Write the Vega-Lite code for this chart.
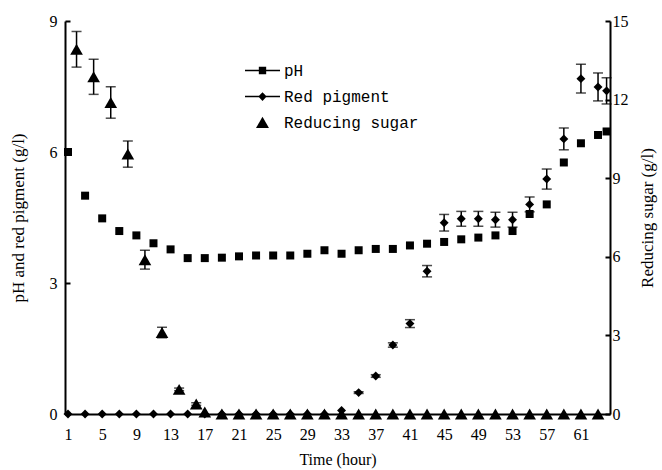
{
  "$schema": "https://vega.github.io/schema/vega-lite/v6.json",
  "width": 545,
  "height": 393,
  "autosize": {"type": "none"},
  "padding": {"left": 65, "top": 21, "right": 52, "bottom": 56},
  "background": "white",
  "config": {
    "view": {"stroke": null},
    "axis": {
      "domainColor": "black", "domainWidth": 2, "tickColor": "black", "tickWidth": 2,
      "labelColor": "black", "titleColor": "black", "grid": false,
      "labelFont": "Liberation Serif", "labelFontSize": 16,
      "titleFont": "Liberation Serif", "titleFontWeight": "normal"
    },
    "axisX": {"labelOverlap": false, "labelFlush": false}
  },
  "data": {
    "values": [
      {"series": "pH", "hour": 1, "v": 6.0},
      {"series": "pH", "hour": 3, "v": 5.0},
      {"series": "pH", "hour": 5, "v": 4.48},
      {"series": "pH", "hour": 7, "v": 4.19},
      {"series": "pH", "hour": 9, "v": 4.09},
      {"series": "pH", "hour": 11, "v": 3.91},
      {"series": "pH", "hour": 13, "v": 3.77},
      {"series": "pH", "hour": 15, "v": 3.57},
      {"series": "pH", "hour": 17, "v": 3.57},
      {"series": "pH", "hour": 19, "v": 3.58},
      {"series": "pH", "hour": 21, "v": 3.61},
      {"series": "pH", "hour": 23, "v": 3.63},
      {"series": "pH", "hour": 25, "v": 3.63},
      {"series": "pH", "hour": 27, "v": 3.63},
      {"series": "pH", "hour": 29, "v": 3.67},
      {"series": "pH", "hour": 31, "v": 3.75},
      {"series": "pH", "hour": 33, "v": 3.67},
      {"series": "pH", "hour": 35, "v": 3.75},
      {"series": "pH", "hour": 37, "v": 3.78},
      {"series": "pH", "hour": 39, "v": 3.78},
      {"series": "pH", "hour": 41, "v": 3.86},
      {"series": "pH", "hour": 43, "v": 3.9},
      {"series": "pH", "hour": 45, "v": 3.94},
      {"series": "pH", "hour": 47, "v": 4.0},
      {"series": "pH", "hour": 49, "v": 4.04},
      {"series": "pH", "hour": 51, "v": 4.09},
      {"series": "pH", "hour": 53, "v": 4.19},
      {"series": "pH", "hour": 55, "v": 4.58},
      {"series": "pH", "hour": 57, "v": 4.8},
      {"series": "pH", "hour": 59, "v": 5.76},
      {"series": "pH", "hour": 61, "v": 6.2},
      {"series": "pH", "hour": 63, "v": 6.39},
      {"series": "pH", "hour": 64, "v": 6.47},
      {"series": "Red pigment", "hour": 1, "v": 0, "err": 0},
      {"series": "Red pigment", "hour": 3, "v": 0, "err": 0},
      {"series": "Red pigment", "hour": 5, "v": 0, "err": 0},
      {"series": "Red pigment", "hour": 7, "v": 0, "err": 0},
      {"series": "Red pigment", "hour": 9, "v": 0, "err": 0},
      {"series": "Red pigment", "hour": 11, "v": 0, "err": 0},
      {"series": "Red pigment", "hour": 13, "v": 0, "err": 0},
      {"series": "Red pigment", "hour": 15, "v": 0, "err": 0},
      {"series": "Red pigment", "hour": 17, "v": 0, "err": 0},
      {"series": "Red pigment", "hour": 19, "v": 0, "err": 0},
      {"series": "Red pigment", "hour": 21, "v": 0, "err": 0},
      {"series": "Red pigment", "hour": 23, "v": 0, "err": 0},
      {"series": "Red pigment", "hour": 25, "v": 0, "err": 0},
      {"series": "Red pigment", "hour": 27, "v": 0, "err": 0},
      {"series": "Red pigment", "hour": 29, "v": 0, "err": 0},
      {"series": "Red pigment", "hour": 31, "v": 0, "err": 0},
      {"series": "Red pigment", "hour": 33, "v": 0.08, "err": 0},
      {"series": "Red pigment", "hour": 35, "v": 0.49, "err": 0.02},
      {"series": "Red pigment", "hour": 37, "v": 0.87, "err": 0.03},
      {"series": "Red pigment", "hour": 39, "v": 1.58, "err": 0.05},
      {"series": "Red pigment", "hour": 41, "v": 2.07, "err": 0.09},
      {"series": "Red pigment", "hour": 43, "v": 3.27, "err": 0.13},
      {"series": "Red pigment", "hour": 45, "v": 4.38, "err": 0.19},
      {"series": "Red pigment", "hour": 47, "v": 4.47, "err": 0.17},
      {"series": "Red pigment", "hour": 49, "v": 4.47, "err": 0.17},
      {"series": "Red pigment", "hour": 51, "v": 4.45, "err": 0.17},
      {"series": "Red pigment", "hour": 53, "v": 4.45, "err": 0.17},
      {"series": "Red pigment", "hour": 55, "v": 4.8, "err": 0.17},
      {"series": "Red pigment", "hour": 57, "v": 5.38, "err": 0.23},
      {"series": "Red pigment", "hour": 59, "v": 6.3, "err": 0.25},
      {"series": "Red pigment", "hour": 61, "v": 7.68, "err": 0.33},
      {"series": "Red pigment", "hour": 63, "v": 7.49, "err": 0.32},
      {"series": "Red pigment", "hour": 64, "v": 7.4, "err": 0.3},
      {"series": "Reducing sugar", "hour": 2, "v": 13.92, "err": 0.68},
      {"series": "Reducing sugar", "hour": 4, "v": 12.87, "err": 0.67},
      {"series": "Reducing sugar", "hour": 6, "v": 11.89, "err": 0.6},
      {"series": "Reducing sugar", "hour": 8, "v": 9.92, "err": 0.5},
      {"series": "Reducing sugar", "hour": 10, "v": 5.89, "err": 0.36},
      {"series": "Reducing sugar", "hour": 12, "v": 3.11, "err": 0.2},
      {"series": "Reducing sugar", "hour": 14, "v": 0.94, "err": 0.05},
      {"series": "Reducing sugar", "hour": 16, "v": 0.38, "err": 0.05},
      {"series": "Reducing sugar", "hour": 17, "v": 0.08, "err": 0},
      {"series": "Reducing sugar", "hour": 19, "v": 0, "err": 0},
      {"series": "Reducing sugar", "hour": 21, "v": 0, "err": 0},
      {"series": "Reducing sugar", "hour": 23, "v": 0, "err": 0},
      {"series": "Reducing sugar", "hour": 25, "v": 0, "err": 0},
      {"series": "Reducing sugar", "hour": 27, "v": 0, "err": 0},
      {"series": "Reducing sugar", "hour": 29, "v": 0, "err": 0},
      {"series": "Reducing sugar", "hour": 31, "v": 0, "err": 0},
      {"series": "Reducing sugar", "hour": 33, "v": 0, "err": 0},
      {"series": "Reducing sugar", "hour": 35, "v": 0, "err": 0},
      {"series": "Reducing sugar", "hour": 37, "v": 0, "err": 0},
      {"series": "Reducing sugar", "hour": 39, "v": 0, "err": 0},
      {"series": "Reducing sugar", "hour": 41, "v": 0, "err": 0},
      {"series": "Reducing sugar", "hour": 43, "v": 0, "err": 0},
      {"series": "Reducing sugar", "hour": 45, "v": 0, "err": 0},
      {"series": "Reducing sugar", "hour": 47, "v": 0, "err": 0},
      {"series": "Reducing sugar", "hour": 49, "v": 0, "err": 0},
      {"series": "Reducing sugar", "hour": 51, "v": 0, "err": 0},
      {"series": "Reducing sugar", "hour": 53, "v": 0, "err": 0},
      {"series": "Reducing sugar", "hour": 55, "v": 0, "err": 0},
      {"series": "Reducing sugar", "hour": 57, "v": 0, "err": 0},
      {"series": "Reducing sugar", "hour": 59, "v": 0, "err": 0},
      {"series": "Reducing sugar", "hour": 61, "v": 0, "err": 0},
      {"series": "Reducing sugar", "hour": 63, "v": 0, "err": 0}
    ]
  },
  "encoding": {
    "x": {
      "field": "hour", "type": "quantitative",
      "scale": {"domain": [0.65, 64.4], "nice": false, "zero": false},
      "axis": {
        "values": [1, 5, 9, 13, 17, 21, 25, 29, 33, 37, 41, 45, 49, 53, 57, 61],
        "ticks": false, "labelPadding": 12, "labelOverlap": false, "labelFlush": false,
        "title": "Time (hour)", "titleFontSize": 16, "titlePadding": 9
      }
    }
  },
  "layer": [
    {
      "encoding": {
        "y": {
          "field": "v", "type": "quantitative",
          "scale": {"domain": [0, 9], "nice": false},
          "axis": {
            "orient": "left", "values": [0, 3, 6, 9], "tickSize": -5,
            "labelPadding": 13, "labelOverlap": false, "title": "pH and red pigment (g/l)",
            "titleFontSize": 17, "titlePadding": 22
          }
        }
      },
      "layer": [
        {
          "transform": [{"filter": "datum.series === 'pH'"}],
          "mark": {"type": "point", "shape": "square", "filled": true, "size": 64, "color": "black", "opacity": 1}
        },
        {
          "transform": [{"filter": "datum.series === 'Red pigment' && datum.err > 0"}],
          "mark": {"type": "errorbar", "ticks": true, "size": 10, "thickness": 1.5, "color": "black"},
          "encoding": {"yError": {"field": "err"}}
        },
        {
          "transform": [{"filter": "datum.series === 'Red pigment'"}],
          "mark": {"type": "point", "shape": "diamond", "filled": true, "size": 80, "color": "black", "opacity": 1}
        }
      ]
    },
    {
      "encoding": {
        "y": {
          "field": "v", "type": "quantitative",
          "scale": {"domain": [0, 15], "nice": false},
          "axis": {
            "orient": "right", "values": [0, 3, 6, 9, 12, 15], "tickSize": -5,
            "labelPadding": 7, "labelOverlap": false, "title": "Reducing sugar (g/l)",
            "titleFontSize": 17, "titleAngle": 270, "titlePadding": 28
          }
        }
      },
      "layer": [
        {
          "transform": [{"filter": "datum.series === 'Reducing sugar' && datum.err > 0"}],
          "mark": {"type": "errorbar", "ticks": true, "size": 10, "thickness": 1.5, "color": "black"},
          "encoding": {"yError": {"field": "err"}}
        },
        {
          "transform": [{"filter": "datum.series === 'Reducing sugar'"}],
          "mark": {"type": "point", "shape": "triangle-up", "filled": true, "size": 160, "color": "black", "opacity": 1}
        }
      ]
    },
    {
      "mark": {"type": "point", "filled": true, "color": "black", "opacity": 0},
      "encoding": {
        "shape": {
          "field": "series", "type": "nominal",
          "scale": {
            "domain": ["pH", "Red pigment", "Reducing sugar"],
            "range": [
              "M-1,-0.045H1V0.045H-1ZM-0.21,-0.21H0.21V0.21H-0.21Z",
              "M-1,-0.045H1V0.045H-1ZM0,-0.25L0.24,0L0,0.25L-0.24,0Z",
              "M0,-0.33L0.37,0.32L-0.37,0.32Z"
            ]
          },
          "legend": {
            "orient": "none", "legendX": 180, "legendY": 32, "title": null,
            "padding": 0, "rowPadding": -1,
            "labelFont": "Liberation Mono", "labelFontSize": 16, "labelColor": "black", "labelOffset": 4,
            "symbolSize": 1225, "symbolFillColor": "black", "symbolStrokeColor": "black",
            "symbolStrokeWidth": 0, "symbolOpacity": 1,
            "encode": {
              "symbols": {
                "update": {
                  "opacity": {"value": 1},
                  "fill": {"value": "black"}
                }
              }
            }
          }
        }
      }
    }
  ],
  "resolve": {"scale": {"y": "independent"}}
}
